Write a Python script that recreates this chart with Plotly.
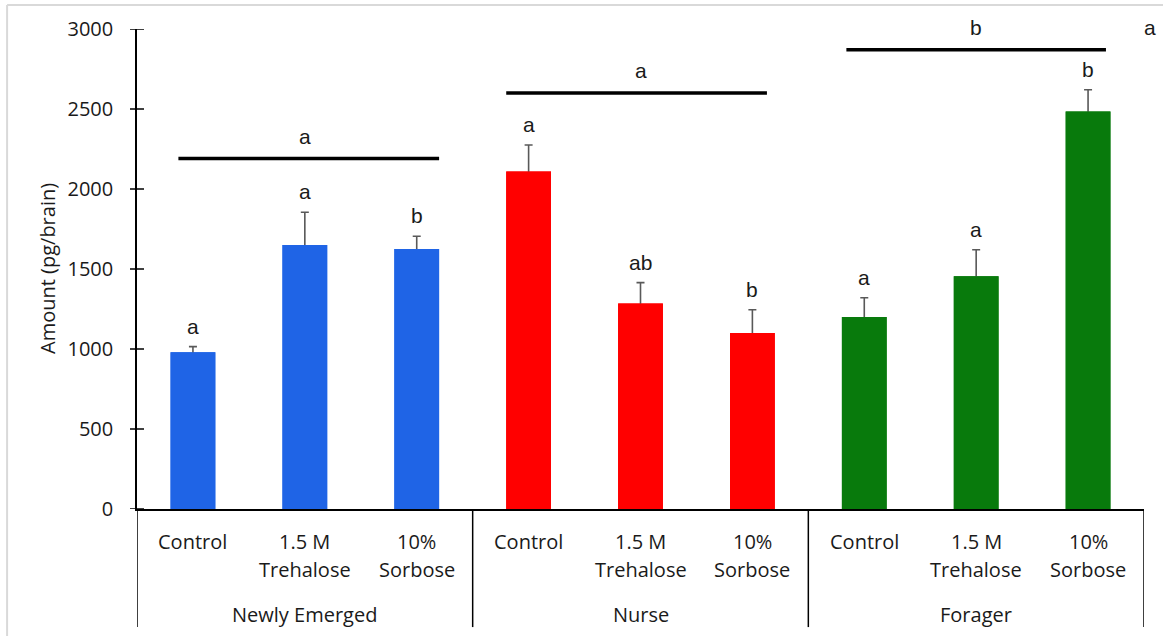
import plotly.graph_objects as go

# Brain amounts (pg/brain) by worker age group and feeding treatment
groups = ["Newly Emerged", "Nurse", "Forager"]
treatments = ["Control", "1.5 M\nTrehalose", "10%\nSorbose"]
colors = ["#1F64E6", "#FF0000", "#087A0C"]

means_newly = [980, 1650, 1625]
means_nurse = [2110, 1285, 1100]
means_forager = [1200, 1455, 2485]

sem_newly = [35, 205, 80]
sem_nurse = [165, 130, 145]
sem_forager = [120, 165, 135]

letters_newly = ["a", "a", "b"]
letters_nurse = ["a", "ab", "b"]
letters_forager = ["a", "a", "b"]

# Group-level comparison: letter and bar height for each age group
group_letters = ["a", "a", "b"]
group_bar_y = [2190, 2600, 2870]
group_bar_span = [(-0.13, 2.2), (2.8, 5.13), (5.84, 8.16)]
extra_letter = "a"

y_ticks = [0, 500, 1000, 1500, 2000, 2500, 3000]

means = [means_newly, means_nurse, means_forager]
sems = [sem_newly, sem_nurse, sem_forager]
letters = [letters_newly, letters_nurse, letters_forager]

CAL = "Open Sans"
ARIAL = "Liberation Sans"
TXT = "#1a1a1a"

fig = go.Figure()
n_t = len(treatments)
for g, name in enumerate(groups):
    xs = [g * n_t + i for i in range(n_t)]
    # bars carrying the error bars
    fig.add_trace(go.Bar(
        x=xs, y=means[g], name=name,
        marker=dict(color=colors[g], line=dict(width=0)),
        width=0.4,
        error_y=dict(type="data", array=sems[g], symmetric=True,
                     color="#595959", thickness=1.6, width=4),
        showlegend=False,
    ))
    # same bars again on top, hiding the lower half of each error bar
    fig.add_trace(go.Bar(
        x=xs, y=means[g], name=name,
        marker=dict(color=colors[g], line=dict(width=0)),
        width=0.4, showlegend=False, hoverinfo="skip",
    ))
    # per-bar significance letters
    for i, x in enumerate(xs):
        fig.add_annotation(x=x, y=means[g][i] + sems[g][i], xref="x", yref="y",
                           text=letters[g][i], showarrow=False, yanchor="bottom",
                           yshift=7, font=dict(family=ARIAL, size=21, color=TXT))
        lines = treatments[i].split("\n")
        for k, line in enumerate(lines):
            fig.add_annotation(x=x, y=0, xref="x", yref="paper", text=line,
                               showarrow=False, yanchor="middle", yshift=-32 - 28 * k,
                               font=dict(family=CAL, size=20, color=TXT))
    # group label under the axis
    fig.add_annotation(x=g * n_t + 1, y=0, xref="x", yref="paper", text=name,
                       showarrow=False, yanchor="middle", yshift=-105,
                       font=dict(family=CAL, size=20, color=TXT))
    # group comparison bar and letter
    x0, x1 = group_bar_span[g]
    fig.add_shape(type="line", xref="x", yref="y", x0=x0, x1=x1,
                  y0=group_bar_y[g], y1=group_bar_y[g],
                  line=dict(color="black", width=3.5))
    fig.add_annotation(x=g * n_t + 1, y=group_bar_y[g], xref="x", yref="y",
                       text=group_letters[g], showarrow=False, yanchor="bottom",
                       yshift=9, font=dict(family=ARIAL, size=21, color=TXT))

fig.add_annotation(x=len(groups) * n_t - 0.5, y=group_bar_y[-1], xref="x", yref="y",
                   text=extra_letter, showarrow=False, yanchor="bottom", xanchor="left",
                   yshift=9, xshift=-2, font=dict(family=ARIAL, size=21, color=TXT))

# group dividers below the category axis
for b in range(len(groups) + 1):
    fig.add_shape(type="line", xref="x", yref="paper", x0=b * n_t - 0.5, x1=b * n_t - 0.5,
                  y0=0, y1=-0.246, line=dict(color="black", width=1.5))

# cross-style tick marks on the value axis
for t in y_ticks:
    fig.add_shape(type="line", xref="paper", yref="y", xsizemode="pixel", xanchor=0,
                  x0=-7, x1=7, y0=t, y1=t, line=dict(color="black", width=1.5))

# light frame around the figure
fig.add_shape(type="line", xref="paper", yref="paper", x0=-0.129, x1=1.1, y0=1.05, y1=1.05,
              line=dict(color="#d9d9d9", width=2))
fig.add_shape(type="line", xref="paper", yref="paper", x0=-0.129, x1=-0.129, y0=1.05, y1=-0.3,
              line=dict(color="#d9d9d9", width=2))

fig.add_annotation(x=0, y=0.5, xref="paper", yref="paper", text="Amount (pg/brain)",
                   textangle=-90, showarrow=False, xanchor="center", yanchor="middle",
                   xshift=-90, font=dict(family=CAL, size=20, color=TXT))

fig.update_layout(
    width=1163, height=636,
    margin=dict(l=137, r=19, t=29, b=127),
    paper_bgcolor="white", plot_bgcolor="white",
    barmode="overlay",
    xaxis=dict(range=[-0.5, len(groups) * n_t - 0.5], showticklabels=False, ticks="",
               showgrid=False, zeroline=False, showline=True, linecolor="black",
               linewidth=1.5, fixedrange=True),
    yaxis=dict(range=[0, 3000], tickvals=y_ticks, ticks="", showgrid=False,
               zeroline=False, showline=True, linecolor="black", linewidth=1.5,
               ticklabelstandoff=18,
               tickfont=dict(family=CAL, size=20, color=TXT)),
)

fig.write_html("out.html")
